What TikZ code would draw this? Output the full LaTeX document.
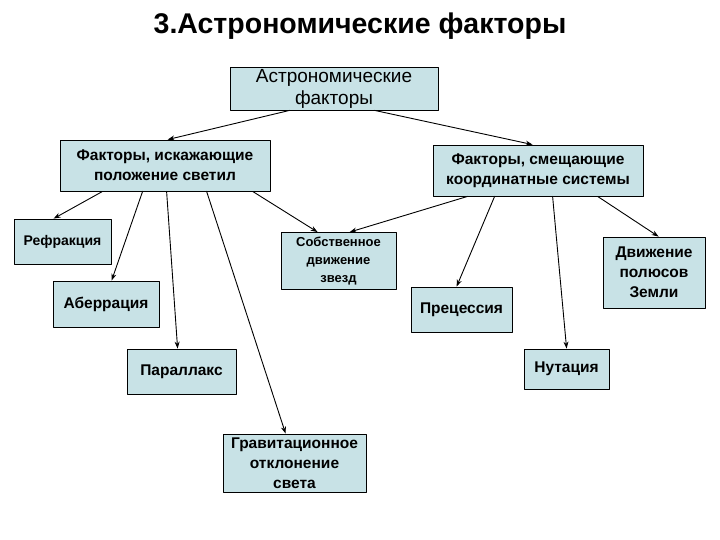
\documentclass[tikz,border=0pt]{standalone}
\usepackage{fontspec}
\setmainfont{Liberation Sans}
\usepackage{tikz}
\usetikzlibrary{arrows.meta}

\definecolor{boxfill}{RGB}{200,226,230}

\begin{document}
\begin{tikzpicture}[x=1pt,y=-1pt,>={Stealth[length=7pt,width=5pt]},
    line cap=round,line join=round,
    factor/.style={draw,fill=boxfill,line width=.8pt,align=center,
      inner sep=0pt,font=\bfseries\fontsize{15.5}{20}\selectfont},
    link/.style={->,line width=.9pt}]
    \useasboundingbox (0,0) rectangle (720,540);

    % The title.
    \node (title) at (360,26) {\bfseries\fontsize{28.5}{32}\selectfont 3.Астрономические факторы};

    % The root and the two groups of factors.
    \node[factor,minimum width=208pt,minimum height=43pt,
      font=\fontsize{19}{22}\selectfont] (root) at (334,88.5)
      {Астрономические\\факторы};
    \node[factor,minimum width=210pt,minimum height=51pt] (distort) at (165,165.5)
      {Факторы, искажающие\\положение светил};
    \node[factor,minimum width=210pt,minimum height=51pt] (shift) at (538,170.5)
      {Факторы, смещающие\\координатные системы};

    % The single factors.
    \node[factor,minimum width=97pt,minimum height=45pt,
      font=\bfseries\fontsize{14}{17}\selectfont] (refr) at (62.5,241.5) {Рефракция};
    \node[factor,minimum width=106pt,minimum height=46pt] (aber) at (106,304) {Аберрация};
    \node[factor,minimum width=115pt,minimum height=57pt,
      font=\bfseries\fontsize{13}{18}\selectfont] (proper) at (338.5,261)
      {Собственное\\движение\\звезд};
    \node[factor,minimum width=101pt,minimum height=45pt] (prec) at (461.5,309.5) {Прецессия};
    \node[factor,minimum width=102pt,minimum height=71pt] (poles) at (654,272.5)
      {Движение\\полюсов\\Земли};
    \node[factor,minimum width=109pt,minimum height=45pt] (parall) at (181.5,371.5) {Параллакс};
    \node[factor,minimum width=85pt,minimum height=40pt] (nut) at (566.5,369) {Нутация};
    \node[factor,minimum width=143pt,minimum height=58pt] (grav) at (294.5,463)
      {Гравитационное\\отклонение\\света};

    % The root splits into the two groups.
    \draw[link] ([xshift=60pt]root.south west) -- ([xshift=108pt]distort.north west);
    \draw[link] ([xshift=145pt]root.south west) -- ([xshift=100pt]shift.north west);

    % What distorts the positions of the stars.
    \draw[link] ([xshift=43pt]distort.south west) -- ([xshift=40pt]refr.north west);
    \draw[link] ([xshift=83pt]distort.south west) -- ([xshift=59pt]aber.north west);
    \draw[link] ([xshift=107pt]distort.south west) -- ([xshift=51pt]parall.north west);
    \draw[link] ([xshift=147pt]distort.south west) -- ([xshift=63pt]grav.north west);
    \draw[link] ([xshift=193pt]distort.south west) -- ([xshift=37pt]proper.north west);

    % What shifts the coordinate systems.
    \draw[link] ([xshift=35pt]shift.south west) -- ([xshift=69pt]proper.north west);
    \draw[link] ([xshift=62pt]shift.south west) -- ([xshift=46pt]prec.north west);
    \draw[link] ([xshift=120pt]shift.south west) -- ([xshift=43pt]nut.north west);
    \draw[link] ([xshift=165pt]shift.south west) -- ([xshift=56pt]poles.north west);
  \end{tikzpicture}
\end{document}
